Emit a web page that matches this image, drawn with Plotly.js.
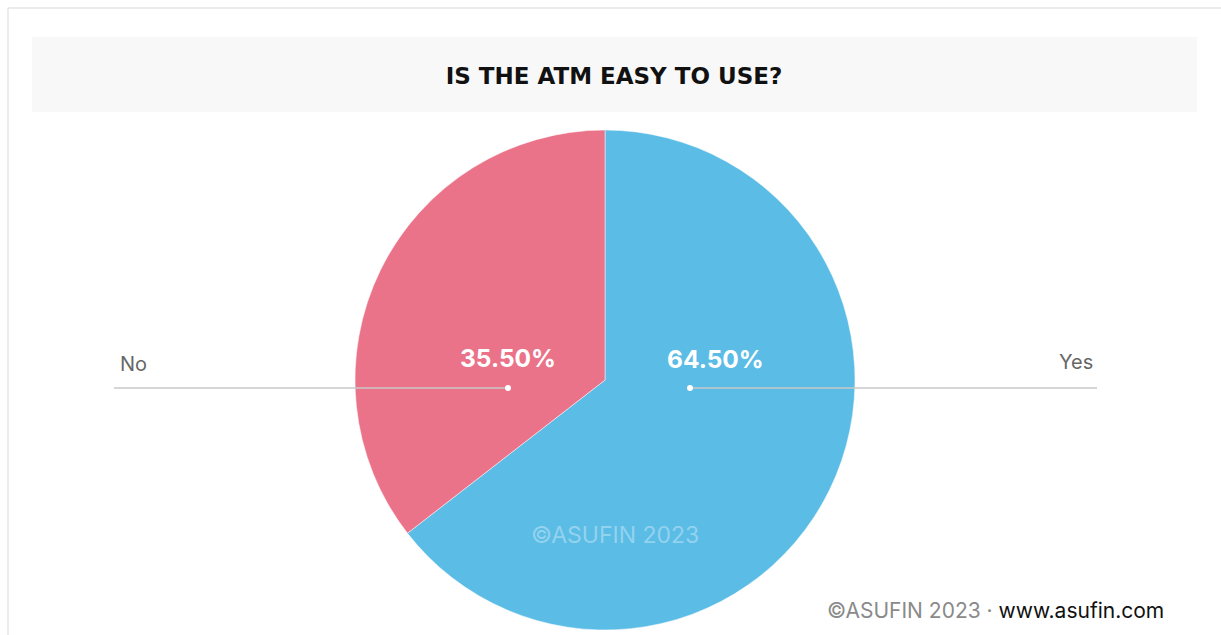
<!DOCTYPE html>
<html>
<head>
<meta charset="utf-8">
<script src="https://cdn.plot.ly/plotly-3.0.1.min.js"></script>
<style>
html,body{margin:0;padding:0;background:#fff;}
#chart{width:1221px;height:635px;}
</style>
</head>
<body>
<div id="chart"></div>
<script>
const categories = ["Yes", "No"];
const values = [64.5, 35.5];
const colors = ["#5bbce6", "#ea7289"];
const chartTitle = "IS THE ATM EASY TO USE?";
const watermark = "©ASUFIN 2023";
const footerGray = "©ASUFIN 2023 · ";
const footerLink = "www.asufin.com";

const W = 1221, H = 635;
const px = x => x / W;
const py = y => 1 - y / H;
const FONT = "Inter, 'Open Sans', sans-serif";

const total = values.reduce((a, b) => a + b, 0);
const pctText = v => (v / total * 100).toFixed(2) + "%";

const trace = {
  type: "pie",
  labels: categories,
  values: values,
  sort: false,
  direction: "clockwise",
  rotation: 0,
  marker: {colors: colors, line: {color: "#ffffff", width: 0.5}},
  textinfo: "none",
  hoverinfo: "label+percent",
  showlegend: false,
  domain: {x: [px(355), px(855)], y: [py(630), py(130)]}
};

const labelSpots = [
  {i: 0, lx: 1095, lanchor: "right", ly: 362, tx: 715, ty: 359, dot: 690, end: 1097},
  {i: 1, lx: 118, lanchor: "left", ly: 364, tx: 508, ty: 358, dot: 508, end: 114}
];

const shapes = [
  {type: "line", xref: "paper", yref: "paper", x0: px(8), x1: 1, y0: py(8), y1: py(8), line: {color: "#d9d9d9", width: 1}},
  {type: "line", xref: "paper", yref: "paper", x0: px(8), x1: px(8), y0: py(8), y1: 0, line: {color: "#d9d9d9", width: 1}},
  {type: "rect", xref: "paper", yref: "paper", x0: px(32), x1: px(1197), y0: py(112), y1: py(37), fillcolor: "#f8f8f8", line: {width: 0}, layer: "below"}
];
const annotations = [];
labelSpots.forEach(s => {
  shapes.push({type: "line", xref: "paper", yref: "paper", x0: px(s.dot), x1: px(s.end), y0: py(388), y1: py(388), line: {color: "#c8c8c8", width: 1.5}});
  shapes.push({type: "circle", xref: "paper", yref: "paper", x0: px(s.dot - 3), x1: px(s.dot + 3), y0: py(391), y1: py(385), fillcolor: "#ffffff", line: {width: 0}});
  annotations.push({xref: "paper", yref: "paper", x: px(s.lx), y: py(s.ly), xanchor: s.lanchor, yanchor: "middle", showarrow: false, text: categories[s.i], font: {family: FONT, size: 20, color: "#666666"}});
  annotations.push({xref: "paper", yref: "paper", x: px(s.tx), y: py(s.ty), xanchor: "center", yanchor: "middle", showarrow: false, text: "<b>" + pctText(values[s.i]) + "</b>", font: {family: FONT, size: 24.5, color: "#ffffff"}});
});
annotations.push({xref: "paper", yref: "paper", x: px(615), y: py(535), xanchor: "center", yanchor: "middle", showarrow: false, text: watermark, font: {family: FONT, size: 23, color: "rgba(255,255,255,0.35)"}});
annotations.push({xref: "paper", yref: "paper", x: px(1166), y: py(610), xanchor: "right", yanchor: "middle", showarrow: false,
  text: "<span style='color:#8a8a8a'>" + footerGray + "</span><span style='color:#111111'>" + footerLink + "</span>",
  font: {family: FONT, size: 21, color: "#111111"}});

const layout = {
  width: W, height: H,
  margin: {l: 0, r: 0, t: 0, b: 0},
  paper_bgcolor: "#ffffff",
  title: {text: "<b>" + chartTitle + "</b>", x: px(614), xanchor: "center", y: py(76), yanchor: "middle", font: {family: "'DejaVu Sans', sans-serif", size: 23, color: "#111111"}},
  shapes: shapes,
  annotations: annotations
};

Plotly.newPlot("chart", [trace], layout, {displayModeBar: false, responsive: false});
</script>
</body>
</html>
